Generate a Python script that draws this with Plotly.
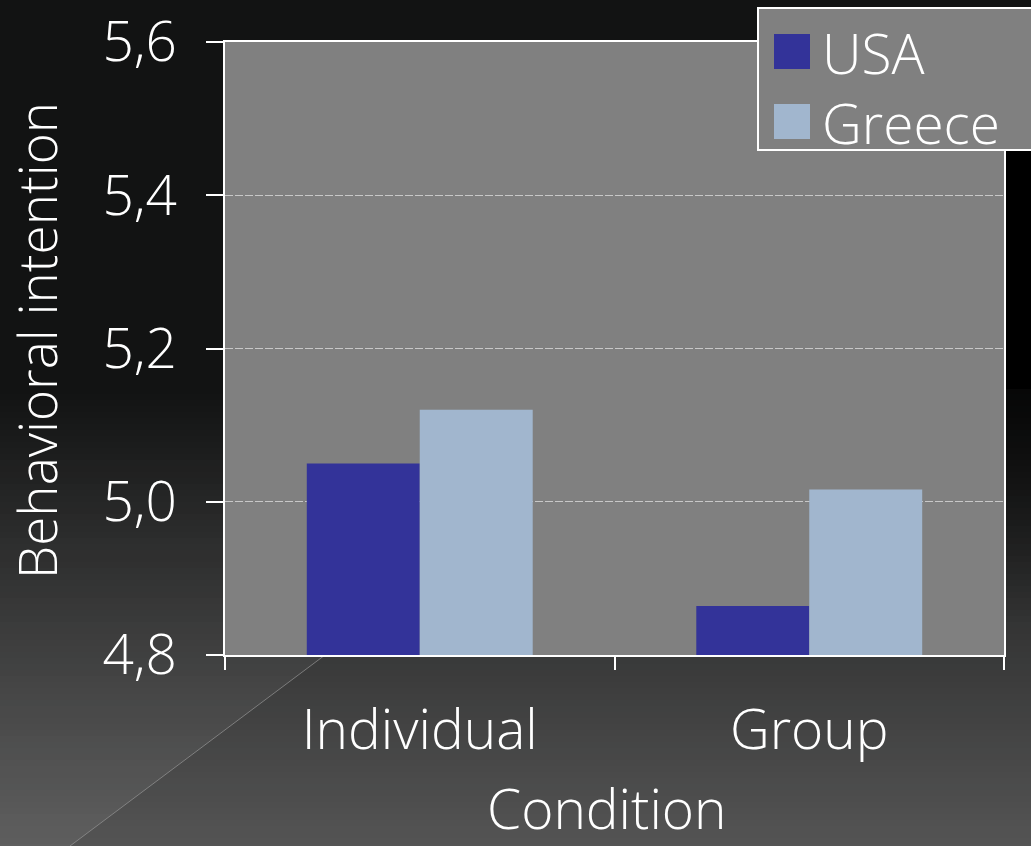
import plotly.graph_objects as go

# Mean behavioral intention by condition and country
conditions = ["Individual", "Group"]
series_names = ["USA", "Greece"]
usa_values = [5.05, 4.864]
greece_values = [5.12, 5.016]
series_values = [usa_values, greece_values]
series_colors = ["#333399", "#a1b6ce"]

y_ticks = [4.8, 5.0, 5.2, 5.4, 5.6]
x_title = "Condition"
y_title = "Behavioral intention"

W, H = 1031, 846
L, R, T, B = 225, 1004, 42, 655   # plot area in pixels
PW, PH = R - L, B - T


def px(x):
    return (x - L) / PW


def py(y):
    return (B - y) / PH


FONT = "Open Sans"
FW = 300
FS = 55

fig = go.Figure()
for name, vals, col in zip(series_names, series_values, series_colors):
    fig.add_trace(go.Bar(x=conditions, y=vals, name=name, marker=dict(color=col, line=dict(width=0))))

shapes = []


def band(y0, y1, x0, x1, color):
    return dict(type="rect", xref="paper", yref="paper", x0=px(x0), x1=px(x1), y0=py(y0), y1=py(y1),
                fillcolor=color, line=dict(width=0), layer="below")


# slide background: flat dark top, then a vertical gradient towards grey
top_c = (18, 19, 19)
bot_c = (84, 84, 84)
g0 = 388
shapes.append(band(0, g0 + 1, 0, W, "rgb(%d,%d,%d)" % top_c))
x_at = lambda yy: 325 + (655 - yy) / 0.749
step = 6
y = g0
while y < H:
    y1 = min(y + step + 1, H + 2)
    t = (y + step / 2 - g0) / (H - g0)
    c = tuple(round(a + (b - a) * t) for a, b in zip(top_c, bot_c))
    shapes.append(band(y, y1, 0, W, "rgb(%d,%d,%d)" % c))
    # lighter diagonal panel on the left, fading in downwards
    a = 0.065 * t
    pts = [(0, y), (0, y1), (x_at(y1), y1), (x_at(y), y)]
    path = "M " + " L ".join("%f,%f" % (px(p), py(q)) for p, q in pts) + " Z"
    shapes.append(dict(type="path", xref="paper", yref="paper", path=path,
                       fillcolor="rgba(255,255,255,%.4f)" % a, line=dict(width=0), layer="below"))
    # dark band at the right edge fading out
    if y < 620:
        k = 1.0 if y < 400 else max(0.0, 1 - (y - 400) / 220)
        shapes.append(band(y, y1, 1004, W, "rgba(0,0,0,%.3f)" % (0.6 * k)))
    y += step

shapes.append(band(150, g0 + 1, 1004, W, "#000000"))
shapes.append(dict(type="line", xref="paper", yref="paper", x0=px(325), y0=py(655), x1=px(70), y1=py(H),
                   line=dict(color="rgba(150,150,150,0.7)", width=1), layer="below"))

# plot area fill
shapes.append(dict(type="rect", xref="paper", yref="paper", x0=0, x1=1, y0=0, y1=1,
                   fillcolor="#808080", line=dict(width=0), layer="below"))

# legend box with swatches
shapes.append(dict(type="rect", xref="paper", yref="paper", x0=px(758), x1=px(1045), y0=py(150), y1=py(8),
                   fillcolor="#808080", line=dict(color="#ffffff", width=2), layer="above"))
legend_rows = [(34, 69), (104, 139)]
annotations = []
for (y0, y1), name, col in zip(legend_rows, series_names, series_colors):
    shapes.append(dict(type="rect", xref="paper", yref="paper", x0=px(774), x1=px(810), y0=py(y1), y1=py(y0),
                       fillcolor=col, line=dict(width=0), layer="above"))
    annotations.append(dict(text=name, xref="paper", yref="paper", x=px(820), y=py((y0 + y1) / 2 + 1),
                            xanchor="left", yanchor="middle", showarrow=False,
                            font=dict(family=FONT, size=FS, weight=FW, color="#ffffff")))

# axis titles
annotations.append(dict(text=x_title, xref="paper", yref="paper", x=px(607), y=py(807),
                        xanchor="center", yanchor="middle", showarrow=False,
                        font=dict(family=FONT, size=FS, weight=FW, color="#ffffff")))
annotations.append(dict(text=y_title, xref="paper", yref="paper", x=px(36), y=py(341),
                        xanchor="center", yanchor="middle", showarrow=False, textangle=-90,
                        font=dict(family=FONT, size=53, weight=FW, color="#ffffff")))

fig.update_layout(
    width=W, height=H,
    margin=dict(l=L, r=W - R, t=T, b=H - B, pad=0, autoexpand=False),
    paper_bgcolor="rgb(18,19,19)",
    plot_bgcolor="rgba(0,0,0,0)",
    barmode="group", bargap=0.42, bargroupgap=0,
    showlegend=False,
    separators=",.",
    shapes=shapes,
    annotations=annotations,
    font=dict(family=FONT, weight=FW, color="#ffffff"),
)

fig.update_xaxes(
    type="category", tickson="boundaries", automargin=False,
    ticks="outside", ticklen=13, tickwidth=2, tickcolor="#ffffff",
    showline=True, linecolor="#ffffff", linewidth=2, mirror=True,
    showgrid=False,
    tickfont=dict(family=FONT, size=FS, weight=FW, color="#ffffff"),
    ticklabelstandoff=26,
)

fig.update_yaxes(
    range=[4.8, 5.6], tickvals=y_ticks, tickformat=".1f", automargin=False,
    ticks="outside", ticklen=17, tickwidth=2, tickcolor="#ffffff",
    showline=True, linecolor="#ffffff", linewidth=2, mirror=True,
    showgrid=True, gridcolor="#c8c8c8", gridwidth=1, griddash="8px,2px",
    zeroline=False,
    tickfont=dict(family=FONT, size=FS, weight=FW, color="#ffffff"),
    ticklabelstandoff=18,
)

fig.write_html("out.html")
